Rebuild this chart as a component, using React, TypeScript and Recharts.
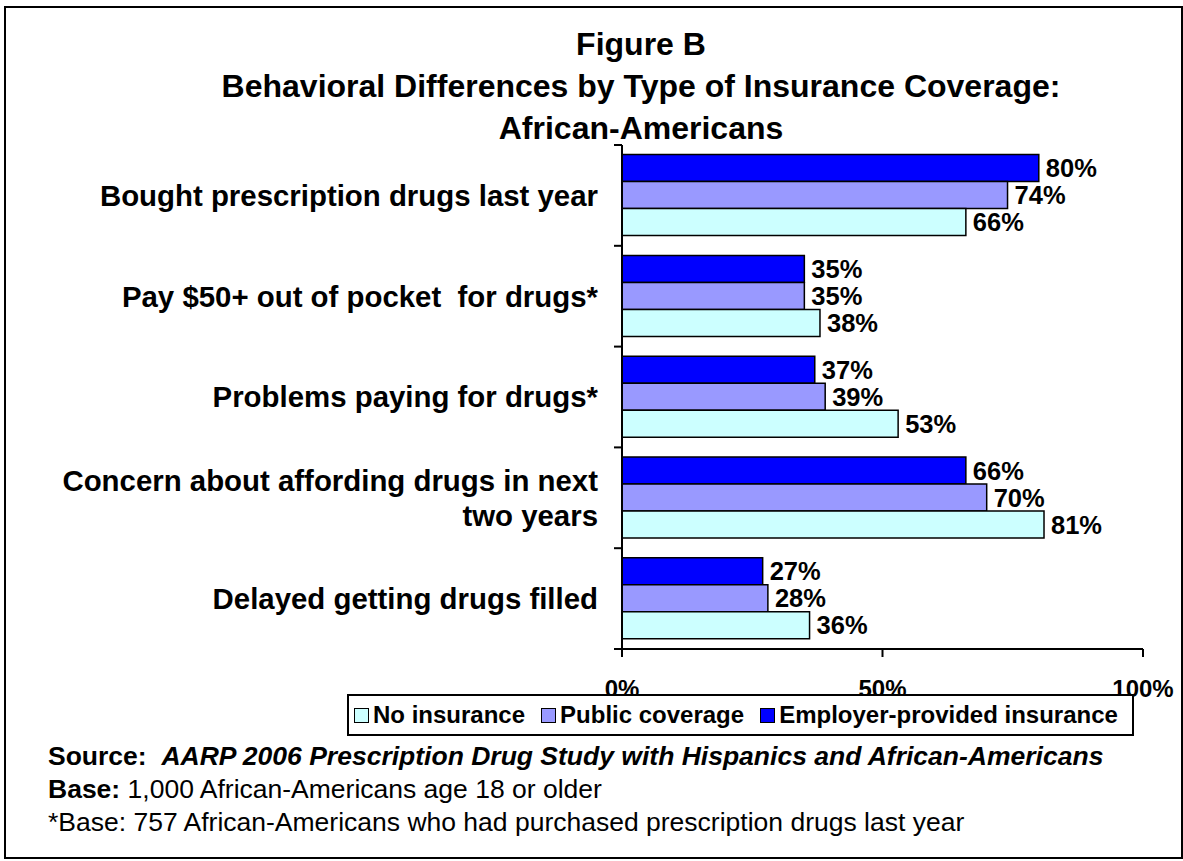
import React from 'react';
import { BarChart, Bar, XAxis, YAxis, LabelList, Legend } from 'recharts';

const categories = [
  'Bought prescription drugs last year',
  'Pay $50+ out of pocket  for drugs*',
  'Problems paying for drugs*',
  'Concern about affording drugs in next two years',
  'Delayed getting drugs filled',
];
const employerProvided = [80, 35, 37, 66, 27];
const publicCoverage = [74, 35, 39, 70, 28];
const noInsurance = [66, 38, 53, 81, 36];
const xTicks = [0, 50, 100];

const titleLines = [
  'Figure B',
  'Behavioral Differences by Type of Insurance Coverage:',
  'African-Americans',
];

const series = [
  { key: 'employer', name: 'Employer-provided insurance', color: '#0000FF' },
  { key: 'public', name: 'Public coverage', color: '#9999FF' },
  { key: 'none', name: 'No insurance', color: '#CCFFFF' },
];
const legendOrder = ['none', 'public', 'employer'];

const data = categories.map((category, i) => ({
  category,
  employer: employerProvided[i],
  public: publicCoverage[i],
  none: noInsurance[i],
}));

const FONT = '"Liberation Sans", Arial, Helvetica, sans-serif';
const W = 1183;
const H = 861;
const PLOT_TOP = 145;
const PLOT_BOTTOM = 649;
const X_AXIS_H = 60;
const Y_AXIS_W = 622;
const BAND = (PLOT_BOTTOM - PLOT_TOP) / categories.length;

function wrap(text: string, max: number) {
  const words = text.split(' ');
  const lines: string[] = [];
  let cur = '';
  for (const w of words) {
    const next = cur === '' ? w : cur + ' ' + w;
    if (next.length > max && cur !== '') {
      lines.push(cur);
      cur = w;
    } else {
      cur = next;
    }
  }
  lines.push(cur);
  return lines;
}

function CategoryTick(props: any) {
  const { x, y, payload, index } = props;
  const lines = wrap(payload.value, 37);
  const lh = 35;
  const start = y - ((lines.length - 1) * lh) / 2;
  return (
    <g>
      <line x1={x - 8} x2={x} y1={y - BAND / 2} y2={y - BAND / 2} stroke="#000" strokeWidth={2} />
      {index === categories.length - 1 && (
        <line x1={x - 8} x2={x} y1={y + BAND / 2} y2={y + BAND / 2} stroke="#000" strokeWidth={2} />
      )}
      <text
        x={x - 24}
        y={start}
        textAnchor="end"
        fontFamily={FONT}
        fontSize={29.4}
        fontWeight="bold"
        fill="#000"
        style={{ whiteSpace: 'pre' }}
      >
        {lines.map((l, i) => (
          <tspan key={i} x={x - 24} y={start + i * lh} dy="0.355em">
            {l}
          </tspan>
        ))}
      </text>
    </g>
  );
}

function LegendBox() {
  return (
    <div
      style={{
        boxSizing: 'border-box',
        width: 787,
        height: 42,
        border: '2px solid #000',
        display: 'flex',
        alignItems: 'center',
        paddingLeft: 5,
        fontFamily: FONT,
        fontSize: 24,
        fontWeight: 'bold',
        color: '#000',
        background: '#fff',
        whiteSpace: 'nowrap',
      }}
    >
      {legendOrder.map((k, i) => {
        const s = series.find((d) => d.key === k)!;
        return (
          <div key={k} style={{ display: 'flex', alignItems: 'center', marginLeft: i === 0 ? 0 : 16 }}>
            <span
              style={{
                display: 'inline-block',
                boxSizing: 'border-box',
                width: 15,
                height: 15,
                background: s.color,
                border: '1.5px solid #000',
                marginRight: 4,
              }}
            />
            <span>{s.name}</span>
          </div>
        );
      })}
    </div>
  );
}

export default function App() {
  return (
    <div style={{ position: 'absolute', left: 0, top: 0, width: W, height: H, background: '#fff', fontFamily: FONT }}>
      <div
        style={{
          position: 'absolute',
          left: 4,
          top: 6,
          width: W - 4,
          height: H - 8,
          boxSizing: 'border-box',
          border: '2px solid #000',
        }}
      />
      <div
        style={{
          position: 'absolute',
          left: 141,
          top: 23,
          width: 1000,
          textAlign: 'center',
          fontSize: 32,
          fontWeight: 'bold',
          lineHeight: '42px',
          color: '#000',
        }}
      >
        {titleLines.map((t) => (
          <div key={t}>{t}</div>
        ))}
      </div>
      <div style={{ position: 'absolute', left: 0, top: 0 }}>
        <BarChart
          width={W}
          height={H}
          data={data}
          layout="vertical"
          margin={{ top: PLOT_TOP, right: W - 1143, bottom: H - PLOT_BOTTOM - X_AXIS_H, left: 0 }}
          barCategoryGap="9.5%"
          barGap={0}
        >
          <XAxis
            type="number"
            domain={[0, 100]}
            ticks={xTicks}
            tickFormatter={(v: number) => `${v}%`}
            height={X_AXIS_H}
            axisLine={{ stroke: '#000', strokeWidth: 2 }}
            tickLine={{ stroke: '#000', strokeWidth: 2 }}
            tickSize={8}
            tickMargin={23}
            tick={{ fill: '#000', fontSize: 24, fontWeight: 'bold', fontFamily: FONT }}
            interval={0}
          />
          <YAxis
            type="category"
            dataKey="category"
            width={Y_AXIS_W}
            axisLine={{ stroke: '#000', strokeWidth: 2 }}
            tickLine={false}
            tickSize={0}
            tickMargin={0}
            tick={<CategoryTick />}
            interval={0}
          />
          <Legend
            layout="vertical"
            align="center"
            verticalAlign="middle"
            wrapperStyle={{ left: 347, top: 694, width: 787, height: 42 }}
            content={() => <LegendBox />}
          />
          {series.map((s) => (
            <Bar
              key={s.key}
              dataKey={s.key}
              name={s.name}
              fill={s.color}
              stroke="#000"
              strokeWidth={1.5}
              isAnimationActive={false}
            >
              <LabelList
                dataKey={s.key}
                position="right"
                offset={7}
                formatter={(v: any) => `${v}%`}
                style={{ fill: '#000', fontSize: 25.5, fontWeight: 'bold', fontFamily: FONT }}
              />
            </Bar>
          ))}
        </BarChart>
      </div>
      <div
        style={{
          position: 'absolute',
          left: 48,
          top: 740,
          fontSize: 26.5,
          lineHeight: '33px',
          color: '#000',
          whiteSpace: 'nowrap',
        }}
      >
        <div>
          <b>Source:</b>&nbsp; <b><i>AARP 2006 Prescription Drug Study with Hispanics and African-Americans</i></b>
        </div>
        <div>
          <b>Base:</b> 1,000 African-Americans age 18 or older
        </div>
        <div>*Base: 757 African-Americans who had purchased prescription drugs last year</div>
      </div>
    </div>
  );
}
